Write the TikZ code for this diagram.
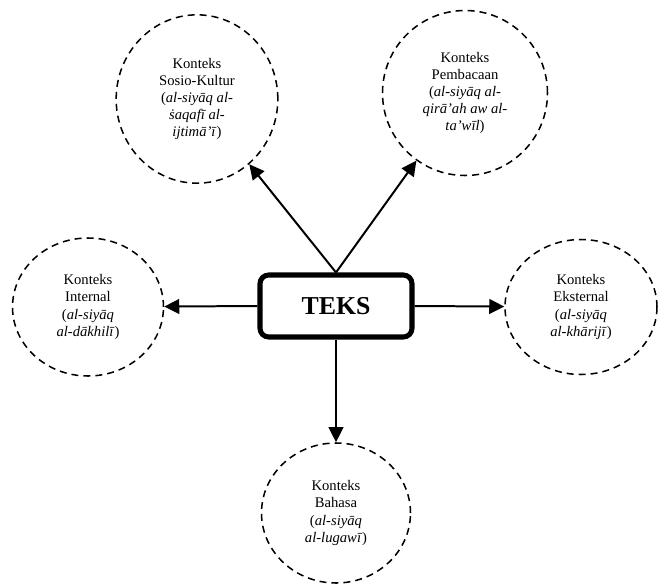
\documentclass[tikz,border=0pt]{standalone}
\usepackage{fontspec}
\setmainfont{Liberation Serif}
\usetikzlibrary{arrows.meta,shapes.geometric}

\tikzset{
	ctx/.style={shape=ellipse, draw, dashed, dash pattern=on 2.1mm off 1.5mm, line width=1.3pt, align=center, inner sep=0pt, font=\fontsize{12.5}{14.6}\selectfont},
	teksbox/.style={shape=rectangle, draw, rounded corners=2.6mm, line width=4.3pt, minimum width=45.6mm, minimum height=18.6mm, font=\fontsize{22}{26}\selectfont\bfseries},
	link/.style={line width=1.7pt, -{Triangle[length=4.5mm, width=4.4mm]}}
}

\begin{document}
\begin{tikzpicture}[x=0.3mm, y=-0.3mm]
	\useasboundingbox (0,0) rectangle (660,588);
	% centre
	\node[teksbox](teks) at (336,306){TEKS};
	% konteks
	\node[ctx, minimum width=48.5mm, minimum height=50.5mm](sosio) at (197,99){Konteks\\Sosio-Kultur\\(\textit{al-siyāq al-}\\\textit{ṡaqafī al-}\\\textit{ijtimā’ī})};
	\node[ctx, minimum width=49.5mm, minimum height=49.5mm](pembacaan) at (465,93){Konteks\\Pembacaan\\(\textit{al-siyāq al-}\\\textit{qirā’ah aw al-}\\\textit{ta’wīl})};
	\node[ctx, minimum width=45.3mm, minimum height=41.4mm](internal) at (88,307){Konteks\\Internal\\(\textit{al-siyāq}\\\textit{al-dākhilī})};
	\node[ctx, minimum width=45.6mm, minimum height=40.5mm](eksternal) at (581,307){Konteks\\Eksternal\\(\textit{al-siyāq}\\\textit{al-khārijī})};
	\node[ctx, minimum width=44.7mm, minimum height=42mm](bahasa) at (336,513){Konteks\\Bahasa\\(\textit{al-siyāq}\\\textit{al-lugawī})};
	% panah
	\draw[link] (teks.north) -- (sosio);
	\draw[link] (teks.north) -- (pembacaan);
	\draw[link] (teks.west) -- (internal);
	\draw[link] (teks.east) -- (eksternal);
	\draw[link] (teks.south) -- (bahasa);
\end{tikzpicture}
\end{document}
